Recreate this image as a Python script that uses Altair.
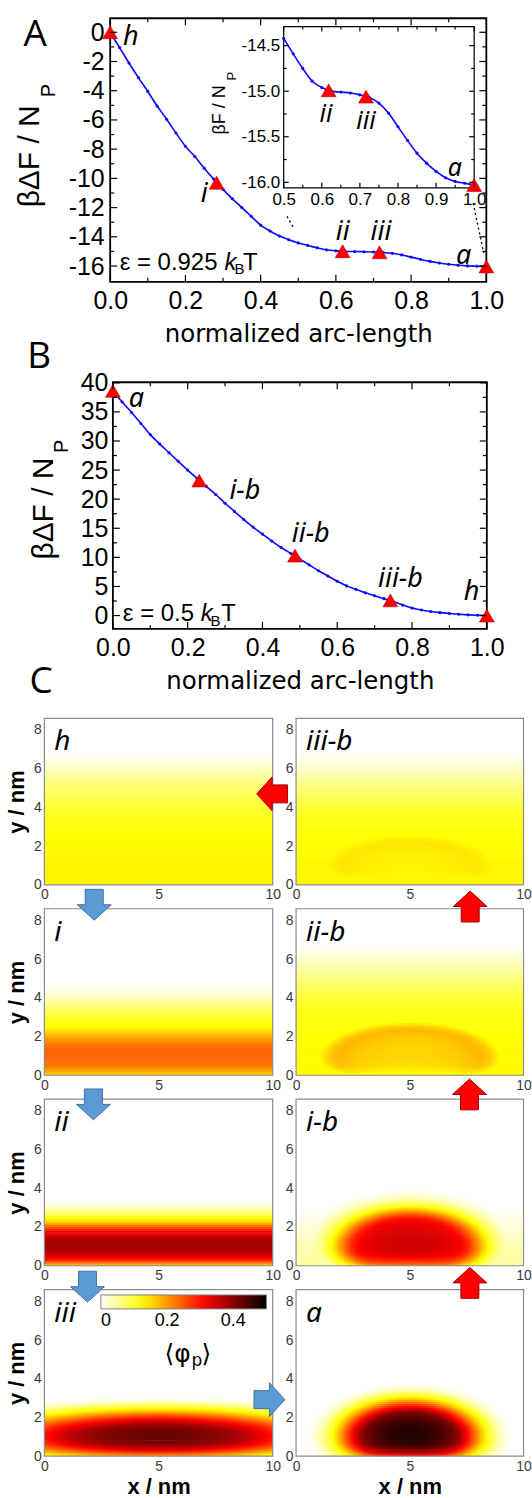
import numpy as np
import pandas as pd
import altair as alt

# ---------------- values ----------------
ARC = [0.000, 0.025, 0.050, 0.075, 0.100, 0.125, 0.150, 0.175, 0.200, 0.225,
       0.250, 0.275, 0.300, 0.325, 0.350, 0.375, 0.400, 0.425, 0.450, 0.475,
       0.500, 0.525, 0.550, 0.575, 0.600, 0.625, 0.650, 0.675, 0.700, 0.725,
       0.750, 0.775, 0.800, 0.825, 0.850, 0.875, 0.900, 0.925, 0.950, 0.975, 1.000]
F_A = [0.0, -1.05, -2.1, -3.1, -4.05, -5.05, -5.95, -6.9, -7.8, -8.5,
       -9.3, -10.05, -10.75, -11.4, -12.0, -12.6, -13.2, -13.6, -13.95, -14.2,
       -14.42, -14.59, -14.75, -14.89, -14.96, -15.0, -15.01, -15.02, -15.04, -15.07,
       -15.13, -15.24, -15.39, -15.54, -15.68, -15.79, -15.88, -15.95, -15.99, -16.01, -16.03]
F_B = [38.6, 36.7, 34.9, 33.0, 31.1, 29.5, 28.0, 26.5, 25.0, 23.6,
       22.2, 20.8, 19.3, 17.9, 16.5, 15.2, 14.0, 12.8, 11.7, 10.7,
       9.7, 8.7, 7.7, 6.8, 5.9, 5.1, 4.5, 3.9, 3.4, 2.9,
       2.4, 1.8, 1.3, 0.95, 0.7, 0.5, 0.35, 0.22, 0.12, 0.05, 0.0]

A_PTS_S = [0.0, 0.283, 0.618, 0.716, 1.0]
A_PTS_F = [0.0, -10.3, -14.99, -15.06, -16.03]
A_LAB = ['h', 'i', 'ii', 'iii', 'a']
A_LAB_S = [0.055, 0.25, 0.618, 0.72, 0.94]
A_LAB_F = [-0.3, -11.1, -13.7, -13.7, -15.3]

INS_PTS_S = [0.618, 0.716, 1.0]
INS_PTS_F = [-14.99, -15.06, -16.03]
INS_LAB = ['ii', 'iii', 'a']
INS_LAB_S = [0.611, 0.716, 0.949]
INS_LAB_F = [-15.25, -15.33, -15.84]

B_PTS_S = [0.0, 0.231, 0.487, 0.742, 1.0]
B_PTS_F = [38.6, 23.2, 10.3, 2.6, 0.0]
B_LAB = ['a', 'i-b', 'ii-b', 'iii-b', 'h']
B_LAB_S = [0.063, 0.353, 0.529, 0.769, 0.959]
B_LAB_F = [37.2, 21.4, 14.0, 6.3, 4.0]

# zoom guide lines (main panel A), data coordinates
GUIDE_X = [0.47, 0.965]
GUIDE_Y = [-12.6, -11.7]
GUIDE_X2 = [0.488, 0.993]
GUIDE_Y2 = [-13.4, -15.1]

# axis ticks
A_Y_TICKS = [0, -2, -4, -6, -8, -10, -12, -14, -16]
A_Y_MINOR = [-1, -3, -5, -7, -9, -11, -13, -15]
X_MAJOR = [0.0, 0.2, 0.4, 0.6, 0.8, 1.0]
X_MINOR = [0.1, 0.3, 0.5, 0.7, 0.9]
B_Y_TICKS = [0, 5, 10, 15, 20, 25, 30, 35, 40]
B_Y_MINOR = [2.5, 7.5, 12.5, 17.5, 22.5, 27.5, 32.5, 37.5]
INS_X_TICKS = [0.5, 0.6, 0.7, 0.8, 0.9, 1.0]
INS_X_MINOR = [0.55, 0.65, 0.75, 0.85, 0.95]
INS_Y_TICKS = [-14.5, -15.0, -15.5, -16.0]
INS_Y_MINOR = [-14.75, -15.25, -15.75]
C_X_TICKS = [0, 5, 10]
C_Y_TICKS = [0, 2, 4, 6, 8]
CBAR_TICKS = [0, 0.2, 0.4]

# density maps <phi_p>: film profiles phi(y) and droplet radial profiles
FILM_Y = [0.0, 0.5, 1.0, 1.5, 2.0, 2.5, 3.0, 3.5, 4.0, 4.5, 5.0, 5.5, 6.0, 6.5, 7.0]
FILM_H = [0.130, 0.132, 0.132, 0.130, 0.128, 0.125, 0.120, 0.112, 0.100, 0.087, 0.070, 0.050, 0.030, 0.010, 0.0]
FILM_IIIB = [0.130, 0.130, 0.130, 0.128, 0.126, 0.123, 0.118, 0.110, 0.098, 0.084, 0.066, 0.046, 0.026, 0.009, 0.0]
FILM_IIB = [0.128, 0.128, 0.127, 0.126, 0.124, 0.121, 0.116, 0.108, 0.096, 0.082, 0.064, 0.044, 0.024, 0.008, 0.0]
FILM_IB = [0.045, 0.042, 0.036, 0.028, 0.018, 0.009, 0.003, 0.0, 0.0, 0.0, 0.0, 0.0, 0.0, 0.0, 0.0]
FILM_NONE = [0.0] * 15

BAND_Y = [0.0, 0.25, 0.5, 0.75, 1.0, 1.25, 1.5, 1.75, 2.0, 2.25, 2.5,
          2.75, 3.0, 3.25, 3.5, 3.75, 4.0, 4.25, 4.5, 4.75, 5.0]
BAND_I = [0.159, 0.194, 0.224, 0.236, 0.240, 0.240, 0.232, 0.210, 0.185, 0.153, 0.127,
          0.115, 0.100, 0.085, 0.068, 0.050, 0.033, 0.018, 0.008, 0.002, 0.0]
BAND_II = [0.160, 0.280, 0.340, 0.370, 0.380, 0.375, 0.355, 0.310, 0.240, 0.160, 0.110,
           0.065, 0.030, 0.010, 0.0, 0.0, 0.0, 0.0, 0.0, 0.0, 0.0]

R_GRID = [0.0, 0.1, 0.2, 0.3, 0.4, 0.5, 0.6, 0.7, 0.8, 0.9, 1.0, 1.1, 1.2, 1.3, 1.4]
P_III = [0.43, 0.425, 0.415, 0.40, 0.375, 0.33, 0.28, 0.22, 0.16, 0.11, 0.06, 0.02, 0.0, 0.0, 0.0]
P_A = [0.48, 0.478, 0.472, 0.462, 0.448, 0.43, 0.40, 0.33, 0.25, 0.17, 0.105, 0.05, 0.015, 0.0, 0.0]
P_IB = [0.35, 0.349, 0.346, 0.342, 0.337, 0.33, 0.32, 0.29, 0.23, 0.16, 0.10, 0.055, 0.025, 0.008, 0.0]
P_IIB = [0.155, 0.155, 0.155, 0.156, 0.158, 0.16, 0.163, 0.168, 0.174, 0.178, 0.166, 0.138, 0.11, 0.08, 0.0]
P_IIIB = [0.133, 0.133, 0.134, 0.135, 0.136, 0.137, 0.138, 0.140, 0.142, 0.144, 0.139, 0.13, 0.12, 0.11, 0.0]
WALL_Y = [0.0, 0.25, 0.5, 0.75, 1.0]
WALL = [0.68, 0.85, 0.95, 0.99, 1.0]

# droplet: (centre height, half-width, half-height, radial profile) in nm
PANELS = {
    'h': (FILM_Y, FILM_H, None),
    'i': (BAND_Y, BAND_I, None),
    'ii': (BAND_Y, BAND_II, None),
    'iii': (FILM_Y, FILM_NONE, (1.0, 9.0, 1.7, P_III)),
    'iii-b': (FILM_Y, FILM_IIIB, (0.9, 3.3, 1.45, P_IIIB)),
    'ii-b': (FILM_Y, FILM_IIB, (0.9, 3.5, 1.6, P_IIB)),
    'i-b': (FILM_Y, FILM_IB, (1.0, 3.6, 2.15, P_IB)),
    'a': (FILM_Y, FILM_NONE, (1.0, 3.5, 2.15, P_A)),
}
BOX_X = 10.0
BOX_Y = 8.6

# ---------------- styling / layout ----------------
NUM = 'Liberation Sans'
ITAL = 'Noto Sans'
LET = 'Open Sans'
BLUE_LINE = '#0a0aff'
RED = '#ff0000'

WA, HA, AX0 = 443.2, 264.3, 66.0
A_YDOM = [-17.08, 0.96]
INS_L, INS_R, INS_T, INS_B = 240.0, 431.0, 8.3, 170.0
INS_YDOM = [-16.06, -14.29]
WB, HB, BX0 = 443.7, 247.4, 68.7
B_YDOM = [-2.3, 40.1]
WC, HC = 480.5, 167.0
C_LEFT = [0.0, 229.0]
C_RIGHT = [252.4, 480.5]

HYPH_INT = "(datum.value < 0 ? '-' : '') + format(abs(datum.value), 'd')"
HYPH_1F = "(datum.value < 0 ? '-' : '') + format(abs(datum.value), '.1f')"


def txt(s, x, y, size, font=NUM, style='normal', weight='normal', align='center',
        angle=0, color='black'):
    kw = dict(font=font, fontSize=size, fontStyle=style, fontWeight=weight,
              align=align, baseline='middle', color=color)
    if angle:
        kw['angle'] = angle
    return alt.Chart(pd.DataFrame({'t': [s]})).mark_text(**kw).encode(
        text='t:N', x=alt.value(x), y=alt.value(y))


def yticks(vals, ysc, yax, x0, x1):
    return alt.Chart(pd.DataFrame({'v': vals})).mark_rule(color='black', strokeWidth=1.2).encode(
        y=alt.Y('v:Q', scale=ysc, axis=yax), x=alt.value(x0), x2=alt.value(x1))


def xticks(vals, xsc, xax, y0, y1):
    return alt.Chart(pd.DataFrame({'v': vals})).mark_rule(color='black', strokeWidth=1.2).encode(
        x=alt.X('v:Q', scale=xsc, axis=xax), y=alt.value(y0), y2=alt.value(y1))


def curve_layers(df, xsc, ysc, xax, yax):
    line = alt.Chart(df).mark_line(color=BLUE_LINE, strokeWidth=1.6, interpolate='monotone').encode(
        x=alt.X('s:Q', scale=xsc, axis=xax), y=alt.Y('f:Q', scale=ysc, axis=yax))
    dots = alt.Chart(df).mark_circle(color=BLUE_LINE, size=10, opacity=1).encode(
        x=alt.X('s:Q', scale=xsc, axis=xax), y=alt.Y('f:Q', scale=ysc, axis=yax))
    return [line, dots]


def tri_layer(xs, ys, xsc, ysc, xax, yax):
    df = pd.DataFrame({'s': xs, 'f': ys})
    return alt.Chart(df).mark_point(shape='triangle-up', size=220, filled=True, fill=RED,
                                    stroke='#c00000', strokeWidth=0.6, opacity=1).encode(
        x=alt.X('s:Q', scale=xsc, axis=xax), y=alt.Y('f:Q', scale=ysc, axis=yax))


def lab_layer(labels, xs, ys, xsc, ysc, xax, yax, size):
    df = pd.DataFrame({'lab': labels, 's': xs, 'f': ys})
    return alt.Chart(df).mark_text(font=ITAL, fontStyle='italic', fontSize=size,
                                   align='center', baseline='middle', color='black').encode(
        x=alt.X('s:Q', scale=xsc, axis=xax), y=alt.Y('f:Q', scale=ysc, axis=yax), text='lab:N')


def frame_layer(x0, x1, y0, y1, xsc, ysc, xax, yax, **mk):
    df = pd.DataFrame({'x0': [x0], 'x1': [x1], 'y0': [y0], 'y1': [y1]})
    return alt.Chart(df).mark_rect(**mk).encode(
        x=alt.X('x0:Q', scale=xsc, axis=xax), x2='x1:Q',
        y=alt.Y('y0:Q', scale=ysc, axis=yax), y2='y1:Q')


def axis_x_arc():
    return alt.Axis(values=X_MAJOR, format='.1f', orient='bottom', ticks=False, domain=False,
                    grid=False, labelFont=NUM, labelFontSize=25, labelColor='black',
                    labelPadding=7, labelFlush=False, labelOverlap=False,
                    title='normalized arc-length', titleFont='DejaVu Sans', titleFontSize=24.5,
                    titleFontWeight='normal', titleColor='black', titlePadding=9)


def axis_y_num(values, offset, expr=None, size=25, pad=6):
    kw = dict(values=values, orient='left', offset=offset, ticks=False, domain=False, grid=False,
              labelFont=NUM, labelFontSize=size, labelColor='black', labelPadding=pad,
              labelFlush=False, labelOverlap=False, title=None)
    if expr:
        kw['labelExpr'] = expr
    return alt.Axis(**kw)


# ---------------- panel A ----------------
xA = alt.Scale(domain=[0, 1], range=[AX0, WA], nice=False, zero=False)
yA = alt.Scale(domain=A_YDOM, range=[HA, 0], nice=False, zero=False)
axA_x = axis_x_arc()
axA_y = axis_y_num(A_Y_TICKS, -AX0, HYPH_INT)
dfA = pd.DataFrame({'s': ARC, 'f': F_A})

guides = alt.Chart(pd.DataFrame({'x0': GUIDE_X, 'y0': GUIDE_Y, 'x1': GUIDE_X2, 'y1': GUIDE_Y2})).mark_rule(
    color='black', strokeWidth=1.3, strokeDash=[2, 3]).encode(
    x=alt.X('x0:Q', scale=xA, axis=axA_x), y=alt.Y('y0:Q', scale=yA, axis=axA_y), x2='x1:Q', y2='y1:Q')
mainA = alt.layer(
    frame_layer(0.0, 1.0, A_YDOM[0], A_YDOM[1], xA, yA, axA_x, axA_y,
                filled=False, stroke='black', strokeWidth=1.8),
    guides, *curve_layers(dfA, xA, yA, axA_x, axA_y),
    tri_layer(A_PTS_S, A_PTS_F, xA, yA, axA_x, axA_y),
    lab_layer(A_LAB, A_LAB_S, A_LAB_F, xA, yA, axA_x, axA_y, 27),
    yticks(A_Y_TICKS, yA, axA_y, AX0, AX0 + 7), yticks(A_Y_MINOR, yA, axA_y, AX0, AX0 + 4),
    yticks(A_Y_TICKS, yA, axA_y, WA - 7, WA), yticks(A_Y_MINOR, yA, axA_y, WA - 4, WA),
    xticks(X_MAJOR, xA, axA_x, HA - 7, HA), xticks(X_MINOR, xA, axA_x, HA - 4, HA),
    xticks(X_MAJOR, xA, axA_x, 0, 7), xticks(X_MINOR, xA, axA_x, 0, 4),
)

xI = alt.Scale(domain=[0.5, 1.0], range=[INS_L, INS_R], nice=False, zero=False)
yI = alt.Scale(domain=INS_YDOM, range=[INS_B, INS_T], nice=False, zero=False)
axI_x = alt.Axis(values=INS_X_TICKS, format='.1f', orient='bottom', offset=-(HA - INS_B),
                 ticks=False, domain=False, grid=False, labelFont=NUM, labelFontSize=17,
                 labelColor='black', labelPadding=4, labelFlush=False, labelOverlap=False, title=None)
axI_y = axis_y_num(INS_Y_TICKS, -INS_L, HYPH_1F, size=17, pad=4)
dfI = dfA[dfA['s'] >= 0.5]
insetA = alt.layer(
    frame_layer(0.5, 1.0, INS_YDOM[0], INS_YDOM[1], xI, yI, axI_x, axI_y,
                fill='white', stroke='black', strokeWidth=1.2),
    *curve_layers(dfI, xI, yI, axI_x, axI_y),
    tri_layer(INS_PTS_S, INS_PTS_F, xI, yI, axI_x, axI_y),
    lab_layer(INS_LAB, INS_LAB_S, INS_LAB_F, xI, yI, axI_x, axI_y, 25),
    yticks(INS_Y_TICKS, yI, axI_y, INS_L, INS_L + 5), yticks(INS_Y_MINOR, yI, axI_y, INS_L, INS_L + 3),
    yticks(INS_Y_TICKS, yI, axI_y, INS_R - 5, INS_R), yticks(INS_Y_MINOR, yI, axI_y, INS_R - 3, INS_R),
    xticks(INS_X_TICKS, xI, axI_x, INS_B - 5, INS_B), xticks(INS_X_MINOR, xI, axI_x, INS_B - 3, INS_B),
    xticks(INS_X_TICKS, xI, axI_x, INS_T, INS_T + 5), xticks(INS_X_MINOR, xI, axI_x, INS_T, INS_T + 3),
)

textsA = [
    txt('A', -9.3, 16.7, 37, font=LET),
    txt('βΔF / N', -14.5, 138.5, 30, angle=270),
    txt('P', 5.1, 72.5, 20, angle=270),
    txt('βF / N', 176.0, 92.0, 18, angle=270),
    txt('P', 188.0, 58.0, 13, angle=270),
    txt('ε = 0.925', 75.5, 245.0, 24, align='left'),
    txt('k', 180.7, 245.0, 24, style='italic', align='left'),
    txt('B', 190.7, 251.5, 15, align='left'),
    txt('T', 199.3, 245.0, 24, align='left'),
]
chartA = alt.layer(mainA, insetA, *textsA).resolve_scale(
    x='independent', y='independent').properties(width=WA, height=HA)

# ---------------- panel B ----------------
xB = alt.Scale(domain=[0, 1], range=[BX0, WB], nice=False, zero=False)
yB = alt.Scale(domain=B_YDOM, range=[HB, 0], nice=False, zero=False)
axB_x = axis_x_arc()
axB_y = axis_y_num(B_Y_TICKS, -BX0, None, pad=5)
dfB = pd.DataFrame({'s': ARC, 'f': F_B})
mainB = alt.layer(
    frame_layer(0.0, 1.0, B_YDOM[0], B_YDOM[1], xB, yB, axB_x, axB_y,
                filled=False, stroke='black', strokeWidth=1.8),
    *curve_layers(dfB, xB, yB, axB_x, axB_y),
    tri_layer(B_PTS_S, B_PTS_F, xB, yB, axB_x, axB_y),
    lab_layer(B_LAB, B_LAB_S, B_LAB_F, xB, yB, axB_x, axB_y, 27),
    yticks(B_Y_TICKS, yB, axB_y, BX0, BX0 + 7), yticks(B_Y_MINOR, yB, axB_y, BX0, BX0 + 4),
    yticks(B_Y_TICKS, yB, axB_y, WB - 7, WB), yticks(B_Y_MINOR, yB, axB_y, WB - 4, WB),
    xticks(X_MAJOR, xB, axB_x, HB - 7, HB), xticks(X_MINOR, xB, axB_x, HB - 4, HB),
    xticks(X_MAJOR, xB, axB_x, 0, 7), xticks(X_MINOR, xB, axB_x, 0, 4),
)
textsB = [
    txt('B', -5.3, -25.3, 37, font=LET),
    txt('C', -3.3, 300.7, 37, font=LET),
    txt('βΔF / N', 0.0, 126.7, 30, angle=270),
    txt('P', 17.7, 64.2, 20, angle=270),
    txt('ε = 0.5', 78.7, 232.4, 24, align='left'),
    txt('k', 156.9, 232.4, 24, style='italic', align='left'),
    txt('B', 166.7, 239.0, 15, align='left'),
    txt('T', 177.3, 232.4, 24, align='left'),
]
chartB = alt.layer(mainB, *textsB).properties(width=WB, height=HB)

# ---------------- panel C ----------------
CSCALE = alt.Scale(domain=[0, 0.125, 0.3125, 0.5], range=['#ffffff', '#ffff00', '#ff0000', '#000000'],
                   interpolate='rgb', clamp=True)


def cells(prof_y, prof, drop):
    """Sample the read profiles on a 0.1 nm raster, merging equal neighbours into one rect."""
    d = 0.1
    q = 0.0025
    nx = int(round(BOX_X / d))
    ny = int(round(BOX_Y / d))
    xc = (np.arange(nx) + 0.5) * d
    out = []
    for j in range(ny):
        y0 = j * d
        yc = y0 + d / 2
        y1 = min(y0 + d * 1.3, BOX_Y)
        base = float(np.interp(yc, prof_y, prof, right=0.0))
        if drop is None:
            vals = np.full(nx, base)
        else:
            cy, ax, ay, prof_r = drop
            wall = float(np.interp(yc, WALL_Y, WALL))
            r = np.hypot((xc - BOX_X / 2) / ax, (yc - cy) / ay)
            vals = np.maximum(base, np.interp(r, R_GRID, prof_r, right=0.0) * wall)
        vals = np.round(vals / q) * q
        i = 0
        while i < nx:
            k = i
            while k + 1 < nx and vals[k + 1] == vals[i]:
                k += 1
            if vals[i] > 0.004:
                out.append((i * d, min((k + 1) * d + 0.3 * d, BOX_X), y0, y1, float(vals[i])))
            i = k + 1
    return pd.DataFrame(out, columns=['x0', 'x1', 'y0', 'y1', 'phi']).round(4)


def c_panel(key, rng, ytitle, xtitle, legend):
    xs = alt.Scale(domain=[0, BOX_X], range=rng, nice=False, zero=False)
    ys = alt.Scale(domain=[0, BOX_Y], range=[HC, 0], nice=False, zero=False)
    axx = alt.Axis(values=C_X_TICKS, orient='bottom', ticks=False, domain=False, grid=False,
                   labelFont=NUM, labelFontSize=14, labelColor='#3a3a3a', labelPadding=3,
                   labelFlush=False, labelOverlap=False,
                   title=('x / nm' if xtitle else None), titleFont=NUM, titleFontSize=22,
                   titleFontWeight='bold', titleColor='black', titlePadding=3)
    axy = alt.Axis(values=C_Y_TICKS, orient='left', offset=-rng[0], ticks=False, domain=False,
                   grid=False, labelFont=NUM, labelFontSize=14, labelColor='#3a3a3a', labelPadding=3,
                   labelFlush=False, labelOverlap=False,
                   title=('y / nm' if ytitle else None), titleFont=NUM, titleFontSize=22,
                   titleFontWeight='bold', titleColor='black', titlePadding=5)
    prof_y, prof, drop = PANELS[key]
    heat = alt.Chart(cells(prof_y, prof, drop)).mark_rect(strokeWidth=0).encode(
        x=alt.X('x0:Q', scale=xs, axis=axx), x2='x1:Q',
        y=alt.Y('y0:Q', scale=ys, axis=axy), y2='y1:Q',
        color=alt.Color('phi:Q', scale=CSCALE, legend=legend))
    frame = frame_layer(0.0, BOX_X, 0.0, BOX_Y, xs, ys, axx, axy,
                        filled=False, stroke='#8c8c8c', strokeWidth=1.2)
    label = txt(key, rng[0] + 10, 24, 28, font=ITAL, style='italic', align='left')
    return alt.layer(heat, frame, label)


ARROW = 'M -0.53 -0.91 L 0.53 -0.91 L 0.53 0 L 1 0 L 0 0.91 L -1 0 L -0.53 0 Z'


def arrow(x, y, angle, blue):
    kw = dict(shape=ARROW, size=1156, filled=True, opacity=1, strokeWidth=1,
              fill=('#5b9bd5' if blue else '#ff0000'), stroke=('#41719c' if blue else '#a00000'))
    if angle:
        kw['angle'] = angle
    return alt.Chart(pd.DataFrame({'k': [0]})).mark_point(**kw).encode(x=alt.value(x), y=alt.value(y))


def c_row(left, right, extras, xtitle=False, legend=None):
    return alt.layer(
        c_panel(left, C_LEFT, True, xtitle, legend),
        c_panel(right, C_RIGHT, False, xtitle, None),
        *extras,
    ).resolve_scale(x='independent', y='independent').properties(width=WC, height=HC)


cbar = alt.Legend(orient='none', legendX=56.7, legendY=5.3, direction='horizontal', type='gradient',
                  gradientLength=166, gradientThickness=14, values=CBAR_TICKS, format='.1~f', title=None,
                  labelFont=NUM, labelFontSize=18, labelColor='black', labelAlign='center',
                  labelOffset=3, gradientStrokeColor='#808080', gradientStrokeWidth=1, padding=0)

row1 = c_row('h', 'iii-b', [arrow(228.4, 75.8, 90, False)])
row2 = c_row('i', 'ii-b', [arrow(50.0, -4.0, 0, True), arrow(427.0, -2.2, 180, False)])
row3 = c_row('ii', 'i-b', [arrow(49.2, 5.2, 0, True), arrow(426.3, -4.8, 180, False)])
row4 = c_row('iii', 'a', [
    arrow(43.2, -3.0, 0, True), arrow(225.7, 110.3, 270, True), arrow(426.7, -6.8, 180, False),
    txt('⟨φ', 146.7, 65.0, 25, font='DejaVu Sans', align='right'),
    txt('p', 147.5, 72.0, 17, font='DejaVu Sans', align='left'),
    txt('⟩', 157.5, 65.0, 25, font='DejaVu Sans', align='left'),
], xtitle=True, legend=cbar)


def spacer(h):
    return alt.Chart(pd.DataFrame({'v': [0]})).mark_point(opacity=0, size=1).encode(
        x=alt.value(0), y=alt.value(0)).properties(width=10, height=h)


chart = alt.vconcat(
    chartA, spacer(52), chartB, spacer(40.3), row1, row2, row3, row4,
    spacing=24, bounds='flush',
).resolve_scale(color='independent').resolve_legend(color='independent').configure_view(
    stroke=None).properties(padding={'left': 5.5, 'top': 13.2, 'right': 0, 'bottom': 0},
                            background='white')

chart.save('out.html', embed_options={'renderer': 'svg', 'actions': False})
